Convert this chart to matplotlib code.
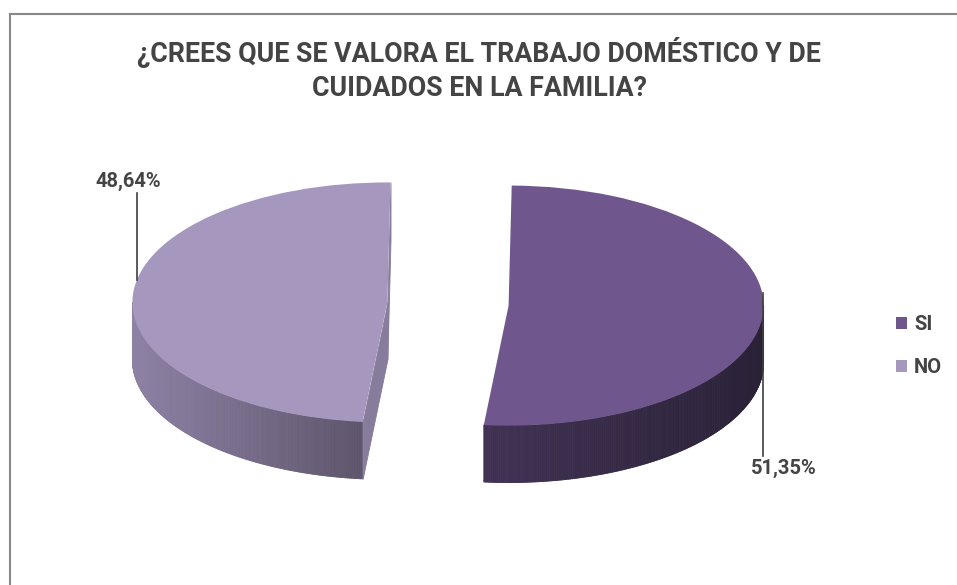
import numpy as np
import matplotlib
matplotlib.use('Agg')
import matplotlib.pyplot as plt
from matplotlib.collections import PolyCollection
from matplotlib.colors import to_rgb
from matplotlib.lines import Line2D

# ---- data ----
title_lines = ["¿CREES QUE SE VALORA EL TRABAJO DOMÉSTICO Y DE",
               "CUIDADOS EN LA FAMILIA?"]
categories = ["SI", "NO"]
values = [51.35, 48.64]
value_labels = ["51,35%", "48,64%"]

# ---- style ----
top_colors = ["#6F568C", "#A597BD"]
side_left_colors = ["#413254", "#8E82A5"]
side_right_colors = ["#2A2137", "#5E556C"]
cut_colors = ["#2A2137", "#877C9B"]
text_color = "#444444"
FONT = ['Roboto', 'DejaVu Sans']

W, H = 957, 585
fig = plt.figure(figsize=(W / 100, H / 100), dpi=100)
ax = fig.add_axes([0, 0, 1, 1])

cx_px, cy_px = 448, 304      # pie centre in pixels
a_px, b_px = 255, 120        # ellipse semi-axes in pixels
depth = 57 / b_px            # thickness in data units
explode_frac = 0.238

wedges, _ = ax.pie(values, colors=top_colors, startangle=89.3, counterclock=False,
                   explode=[explode_frac] * len(values), radius=1,
                   wedgeprops=dict(linewidth=0, zorder=5))
ax.set_aspect('auto')
ax.set_xlim(-cx_px / a_px, (W - cx_px) / a_px)
ax.set_ylim((cy_px - H) / b_px, cy_px / b_px)
ax.axis('off')


def mix(c1, c2, t):
    c1, c2 = np.array(to_rgb(c1)), np.array(to_rgb(c2))
    return tuple(c1 + (c2 - c1) * t)


for i, w in enumerate(wedges):
    cx, cy = w.center
    r = w.r
    t1, t2 = w.theta1, w.theta2
    # visible outer wall: part of arc in the front (lower) half
    polys, xs = [], []
    for k in range(-2, 3):
        lo, hi = max(t1, -180 + 360 * k), min(t2, 0 + 360 * k)
        if hi <= lo:
            continue
        ang = np.radians(np.linspace(lo, hi, 200))
        x = cx + r * np.cos(ang)
        y = cy + r * np.sin(ang)
        for j in range(len(ang) - 1):
            polys.append([(x[j], y[j]), (x[j + 1], y[j + 1]),
                          (x[j + 1], y[j + 1] - depth), (x[j], y[j] - depth)])
            xs.append((x[j] + x[j + 1]) / 2)
    if polys:
        xs = np.array(xs)
        tt = (xs - xs.min()) / max(xs.max() - xs.min(), 1e-9)
        cols = [mix(side_left_colors[i], side_right_colors[i], t) for t in tt]
        ax.add_collection(PolyCollection(polys, facecolors=cols, edgecolors=cols,
                                         linewidths=0.6, zorder=3))
    # radial cut faces facing the viewer
    for edge, normal in ((t1, t1 - 90), (t2, t2 + 90)):
        if np.sin(np.radians(normal)) < -1e-3:
            ex = cx + r * np.cos(np.radians(edge))
            ey = cy + r * np.sin(np.radians(edge))
            ax.add_collection(PolyCollection(
                [[(cx, cy), (ex, ey), (ex, ey - depth), (cx, cy - depth)]],
                facecolors=cut_colors[i], edgecolors=cut_colors[i],
                linewidths=0.6, zorder=4))

# ---- percentage labels with leader lines (pixel positions) ----
def fx(px):
    return px / W


def fy(py):
    return 1 - py / H


label_pos = {"SI": (784, 468), "NO": (128, 181)}
leader = {"SI": ((763, 293), (763, 456)), "NO": ((137, 193), (137, 280))}
for cat, lab in zip(categories, value_labels):
    tx, ty = label_pos[cat]
    fig.text(fx(tx), fy(ty), lab, ha='center', va='center', fontsize=14.5,
             color=text_color, family=FONT, fontweight='bold')
    (x0, y0), (x1, y1) = leader[cat]
    fig.add_artist(Line2D([fx(x0), fx(x1)], [fy(y0), fy(y1)],
                          transform=fig.transFigure, color='#404040', lw=1.2))

# ---- title ----
fig.text(fx(479), fy(52), title_lines[0], ha='center', va='center',
         fontsize=19.3, color=text_color, family=FONT, fontweight='bold')
fig.text(fx(479), fy(88), title_lines[1], ha='center', va='center',
         fontsize=19.3, color=text_color, family=FONT, fontweight='bold')

# ---- legend ----
fig.legend(wedges, categories, loc='center left',
           bbox_to_anchor=(fx(896), fy(346)), frameon=False,
           handlelength=0.55, handleheight=0.55, handletextpad=0.35,
           labelspacing=1.2, borderpad=0, borderaxespad=0,
           prop=dict(family=FONT, size=14.5, weight='bold'),
           labelcolor=text_color)

# ---- chart frame (top and left edges visible) ----
fig.add_artist(Line2D([fx(10), fx(10)], [0, fy(14)], transform=fig.transFigure,
                      color='#888888', lw=1.5))
fig.add_artist(Line2D([fx(10), 1], [fy(14), fy(14)], transform=fig.transFigure,
                      color='#888888', lw=1.5))

fig.savefig('out.png', dpi=100)
